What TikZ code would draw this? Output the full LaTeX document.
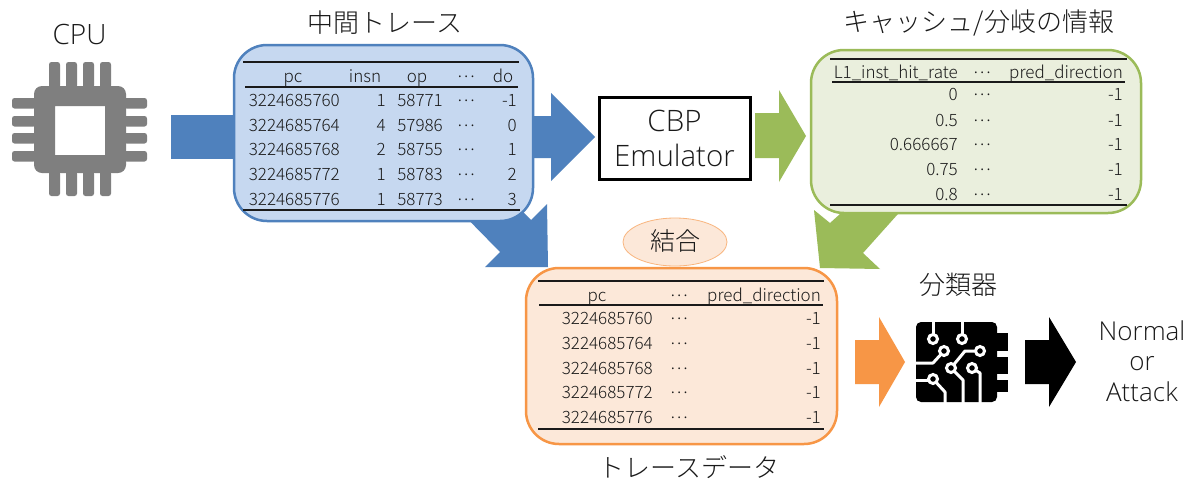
\documentclass[tikz,border=0pt]{standalone}
\usepackage{fontspec}
\setmainfont{Open Sans Light}
\newfontfamily\cjk{Noto Sans CJK JP Light}
\definecolor{bluea}{HTML}{4F81BD}
\definecolor{bluef}{HTML}{C6D8F0}
\definecolor{greena}{HTML}{9BBB59}
\definecolor{greenf}{HTML}{EAEFDD}
\definecolor{orangea}{HTML}{F79646}
\definecolor{orangef}{HTML}{FCE8D9}
\definecolor{ink}{HTML}{1A1A1A}
\definecolor{chipgray}{HTML}{7F7F7F}
\newcommand{\dotsmid}{\raisebox{4.5pt}{⋯}}
\tikzset{
  x=1pt,y=-1pt,
  panel/.style={line width=2.5pt,rounded corners=33pt},
  rulel/.style={line width=1.1pt,draw=ink},
  cell/.style={font=\fontsize{17}{17}\cjk\selectfont,text=ink,inner sep=0pt},
  cr/.style={cell,anchor=base east},
  cc/.style={cell,anchor=base},
  title/.style={font=\fontsize{26}{26}\cjk\selectfont,text=ink,inner sep=0pt},
  big/.style={font=\fontsize{27}{27}\selectfont,text=ink,inner sep=0pt,anchor=base},
  pin/.style={fill=chipgray,rounded corners=2.5pt},
  trace/.style={draw=white,line width=3pt,fill=none,line join=round},
  pad/.style={draw=white,line width=3pt,fill=black},
}
\newcommand{\tracerow}[7]{%
  \node[cr] (#1a) at (#2,#3) {#4};
  \node[cr] (#1b) at (386,#3) {#5};
  \node[cr] (#1c) at (443,#3) {#6};
  \node[cc] (#1d) at (466,#3) {\dotsmid};
  \node[cr] (#1e) at (517,#3) {#7};
}
\newcommand{\gtworow}[4]{%
  \node[cr] (#1a) at (958,#2) {#3};
  \node[cc] (#1b) at (982,#2) {\dotsmid};
  \node[cr] (#1c) at (1123,#2) {#4};
}
\newcommand{\ortworow}[3]{%
  \node[cr] (#1a) at (653,#2) {#3};
  \node[cc] (#1b) at (679,#2) {\dotsmid};
  \node[cr] (#1c) at (821,#2) {-1};
}
\begin{document}
\begin{tikzpicture}
\useasboundingbox (0,0) rectangle (1189,480);
\fill[white] (0,0) rectangle (1189,480);

% CPU icon
\foreach \px in {49,66,83,100}{
  \fill[pin] (\px,62) rectangle (\px+11,88);
  \fill[pin] (\px,171) rectangle (\px+11,196);
}
\foreach \py in {98,116,133,151}{
  \fill[pin] (12,\py) rectangle (36,\py+10.5);
  \fill[pin] (124,\py) rectangle (147,\py+10.5);
}
\fill[chipgray,even odd rule,rounded corners=0pt]
  [rounded corners=8pt] (34,86) -- (126,86) -- (126,173) -- (34,173) -- cycle
  [sharp corners] (55,106) -- (105,106) -- (105,155) -- (55,155) -- cycle;
\node[big,font=\fontsize{28}{28}\selectfont] (cputitle) at (79.5,44) {CPU};

% block arrows
\fill[bluea] (171,115) -- (240,115) -- (240,159) -- (171,159) -- cycle;
\fill[bluea] (528,116) -- (551,116) -- (551,93) -- (595,137) -- (551,181) -- (551,158) -- (528,158) -- cycle;
\fill[bluea] (547,204) -- (531,220) -- (510,199) -- (450,201) -- (500,252) -- (485,267) -- (548,267) -- cycle;
\fill[greena] (755,113) -- (779,113) -- (779,90) -- (806,136) -- (779,182) -- (779,158) -- (755,158) -- cycle;
\fill[greena] (814,210) -- (830,223) -- (850,205) -- (906,205) -- (863,253) -- (880,269) -- (820,268) -- cycle;
\fill[orangea] (855,340) -- (879,340) -- (879,317) -- (905,362) -- (879,407) -- (879,384) -- (855,384) -- cycle;
\fill[black] (1025,340) -- (1049,340) -- (1049,317) -- (1076,362) -- (1049,407) -- (1049,384) -- (1025,384) -- cycle;

% panels
\path[panel,draw=bluea,fill=bluef] (234,45) rectangle (533,221);
\path[panel,draw=greena,fill=greenf] (811,50) rectangle (1141,213);
\path[panel,draw=orangea,fill=orangef] (526,268) rectangle (837,444);

% emulator
\node[draw=black,line width=3pt,outer sep=0pt,minimum width=151pt,minimum height=82pt,inner sep=0pt,anchor=center,
      align=center,font=\fontsize{29.5}{35}\selectfont,text=ink] (cbp) at (674.5,138) {CBP\\Emulator};

% join ellipse
\path[draw=orangea!70,fill=orangef,line width=0.8pt] (675,242) ellipse (52 and 24);
\node[title,font=\fontsize{25}{25}\cjk\selectfont] (join) at (675,241) {結合};

% titles
\node[title] (t1) at (385,23) {中間トレース};
\node[title] (t2) at (979,23) {キャッシュ/分岐の情報};
\node[title] (t3) at (958,285) {分類器};
\node[title] (t4) at (689,467) {トレースデータ};

% blue table
\draw[rulel] (243,62) -- (519,62);
\draw[rulel] (245,87) -- (518,87);
\draw[rulel] (243,210) -- (520,210);
\node[cc] (bh1) at (293,82) {pc};
\node[cc] (bh2) at (365,82) {insn};
\node[cc] (bh3) at (417,82) {op};
\node[cc] (bh4) at (466,82) {\dotsmid};
\node[cc] (bh5) at (503,82) {do};
\tracerow{br1}{340}{106}{3224685760}{1}{58771}{-1}
\tracerow{br2}{340}{131}{3224685764}{4}{57986}{0}
\tracerow{br3}{340}{155}{3224685768}{2}{58755}{1}
\tracerow{br4}{340}{180}{3224685772}{1}{58783}{2}
\tracerow{br5}{340}{205}{3224685776}{1}{58773}{3}

% green table
\draw[rulel] (830,59) -- (1127,59);
\draw[rulel] (832,82) -- (1125,82);
\draw[rulel] (830,205) -- (1127,205);
\node[cr] (gh1) at (958,78) {L1\_inst\_hit\_rate};
\node[cc] (gh2) at (982,78) {\dotsmid};
\node[cr] (gh3) at (1123,78) {pred\_direction};
\gtworow{gr1}{100}{0}{-1}
\gtworow{gr2}{126}{0.5}{-1}
\gtworow{gr3}{150}{0.666667}{-1}
\gtworow{gr4}{175}{0.75}{-1}
\gtworow{gr5}{200}{0.8}{-1}

% orange table
\draw[rulel] (538,281) -- (824,281);
\draw[rulel] (539,305) -- (823,305);
\draw[rulel] (538,429) -- (824,429);
\node[cc] (oh1) at (597,301) {pc};
\node[cc] (oh2) at (679,301) {\dotsmid};
\node[cr] (oh3) at (821,301) {pred\_direction};
\ortworow{or1}{324}{3224685760}
\ortworow{or2}{349}{3224685764}
\ortworow{or3}{374}{3224685768}
\ortworow{or4}{398}{3224685772}
\ortworow{or5}{423}{3224685776}

% classifier chip
\fill[black,rounded corners=5pt] (916,322) rectangle (997,402);
\fill[black] (995,333) rectangle (1008,351);
\fill[black] (995,357) rectangle (1008,374);
\fill[black] (995,380) rectangle (1008,392);
\draw[trace] (933,321) -- (933,339);
\draw[trace] (962,321) -- (962,339);
\draw[trace] (915,363) -- (933,363) -- (944,351);
\draw[trace] (915,380) -- (933,380);
\draw[trace] (933,379) -- (945,392) -- (945,403);
\draw[trace] (980,351) -- (965,351) -- (951,368);
\draw[trace] (951,368) -- (963,380) -- (963,403);
\draw[trace] (972,368) -- (980,373) -- (980,403);
\foreach \cx/\cy in {933/339,962/339,944/351,980/351,951/368,972/368,933/379}
  \draw[pad] (\cx,\cy) circle (4.5);

% result
\node[big,font=\fontsize{26}{26}\selectfont] (r1) at (1142,340) {Normal};
\node[big,font=\fontsize{26}{26}\selectfont] (r2) at (1142,370) {or};
\node[big,font=\fontsize{26}{26}\selectfont] (r3) at (1142,401) {Attack};
\end{tikzpicture}
\end{document}
